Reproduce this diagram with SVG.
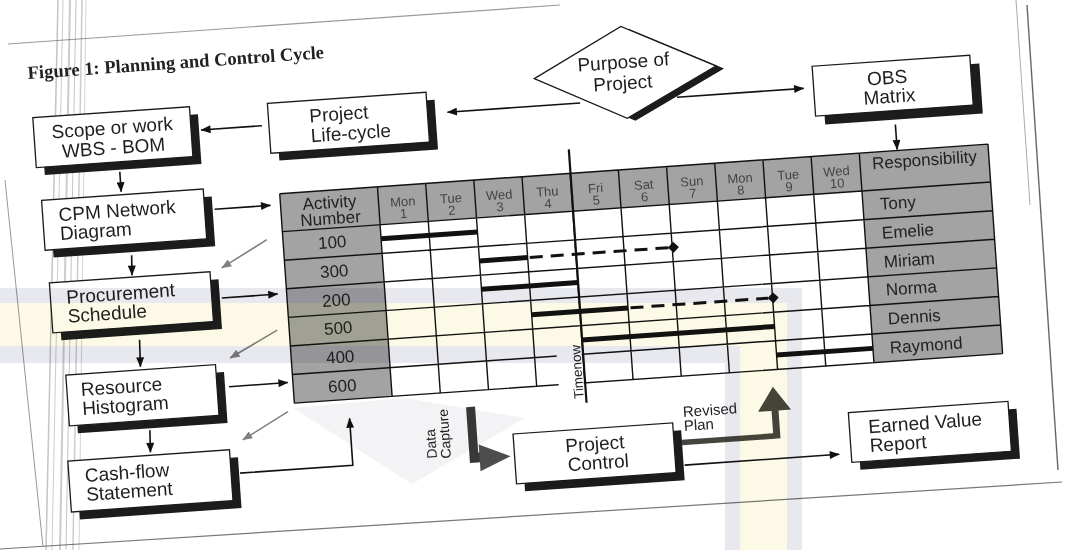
<svg xmlns="http://www.w3.org/2000/svg" width="1073" height="550" viewBox="0 0 1073 550">
<style>
.box{fill:#fff;stroke:#1a1a1a;stroke-width:1.3}
.sh{fill:#1c1c1c}
.t{font-family:"Liberation Sans",Arial,Helvetica,sans-serif;font-size:19px;fill:#1e1e1e}
.tc{text-anchor:middle}
.tb{font-family:"Liberation Sans",Arial,Helvetica,sans-serif;font-size:17px;fill:#222}
.td{font-family:"Liberation Sans",Arial,Helvetica,sans-serif;font-size:13px;fill:#444;text-anchor:middle}
.ln{stroke:#111;stroke-width:1.6;fill:none;marker-end:url(#ah)}
.gl{stroke:#808080;stroke-width:1.6;fill:none;marker-end:url(#ahg)}
.gc{fill:#a3a3a3}
.grid{stroke:#111;stroke-width:1.4;fill:none}
.bar{stroke:#111;stroke-width:5}
.dash{stroke:#111;stroke-width:3;stroke-dasharray:13 8}
.pg{fill:none}
.wm{mix-blend-mode:multiply}
.wg{fill:#e8e8ef}
.wy{fill:#fcfae7}
</style>
<defs>
<marker id="ah" viewBox="0 0 10 8" refX="9.5" refY="4" markerWidth="11" markerHeight="8" markerUnits="userSpaceOnUse" orient="auto"><path d="M0,0 L10,4 L0,8 z" fill="#111"/></marker>
<marker id="ahg" viewBox="0 0 10 8" refX="9.5" refY="4" markerWidth="11" markerHeight="8" markerUnits="userSpaceOnUse" orient="auto"><path d="M0,0 L10,4 L0,8 z" fill="#808080"/></marker>
</defs>
<rect x="0" y="0" width="1073" height="550" fill="#fff"/>
<g id="page" class="pg">
<line x1="8" y1="44" x2="560" y2="5" stroke="#9a9a9a" stroke-width="1.2"/>
<line x1="1016" y1="0" x2="1030" y2="205" stroke="#aaa" stroke-width="1"/>
<line x1="1027" y1="5" x2="1058" y2="470" stroke="#666" stroke-width="1.4"/>
<line x1="0" y1="549" x2="1062" y2="482" stroke="#777" stroke-width="1.2"/>
<line x1="5" y1="180" x2="43" y2="547" stroke="#999" stroke-width="1"/>
<g stroke="#555">
<line x1="58" y1="0" x2="46" y2="550" stroke-width="1.5" opacity="0.35"/>
<line x1="63" y1="0" x2="52" y2="550" stroke-width="1" opacity="0.3"/>
<line x1="70" y1="0" x2="60" y2="550" stroke-width="2" opacity="0.3"/>
<line x1="76" y1="0" x2="66" y2="550" stroke-width="1" opacity="0.35"/>
<line x1="82" y1="0" x2="73" y2="550" stroke-width="1.5" opacity="0.3"/>
<line x1="86" y1="0" x2="79" y2="550" stroke-width="1" opacity="0.25"/>
</g>
</g>
<g transform="rotate(-4 536 275)">
<text id="title" x="43" y="44" font-family="'Liberation Serif','Times New Roman',serif" font-weight="bold" font-size="18.5" fill="#222">Figure 1: Planning and Control Cycle</text>

<g id="connectors">
<line class="ln" x1="273" y1="107" x2="212" y2="107"/>
<line class="ln" x1="592" y1="106.5" x2="459" y2="106.5"/>
<line class="ln" x1="689" y1="107.5" x2="816" y2="107.5"/>
<line class="ln" x1="905" y1="150" x2="905" y2="175"/>
<line class="ln" x1="128" y1="143" x2="128" y2="163"/>
<line class="ln" x1="134" y1="227" x2="133" y2="247"/>
<line class="ln" x1="136" y1="312" x2="135" y2="339"/>
<line class="ln" x1="140" y1="403" x2="139" y2="425"/>
<line class="ln" x1="220" y1="187" x2="276" y2="187"/>
<line class="ln" x1="221" y1="276" x2="277" y2="276"/>
<line class="ln" x1="222" y1="365" x2="281" y2="365"/>
<line class="gl" x1="270" y1="221" x2="223" y2="246"/>
<line class="gl" x1="274" y1="312" x2="225" y2="336.5"/>
<line class="gl" x1="279" y1="394" x2="232" y2="419"/>
<polyline class="ln" points="227,452 340,452 340,405"/>
<line class="ln" x1="671" y1="475" x2="826" y2="475"/>
<path id="data-capture-arrow" d="M457,402 H466 V448 H468 V458 H457 Z" fill="#383838"/>
<polygon points="467,440 467,467 498,454" fill="#4d4d4d"/>
<path id="revised-plan-arrow" d="M670,449.5 L761.5,449.5 L761.5,427 L748,427 L764.5,403 L781,427 L768.5,427 L768.5,455 L670,455 Z" fill="#45453f"/>
</g>

<g id="scope">
<rect class="sh" x="53" y="91" width="157" height="50"/>
<rect class="box" x="45" y="83" width="157" height="50"/>
<text class="t tc" x="123.5" y="105">Scope or work</text>
<text class="t tc" x="123.5" y="125">WBS - BOM</text>
</g>
<g id="lifecycle">
<rect class="sh" x="288" y="93" width="159" height="50"/>
<rect class="box" x="280" y="85" width="159" height="50"/>
<text class="t" x="321" y="107">Project</text>
<text class="t" x="321" y="127">Life-cycle</text>
</g>
<g id="purpose">
<polygon class="sh" points="556,82 646,36 738,82 646,128"/>
<polygon class="box" points="548,79 638,33 730,79 638,125"/>
<text class="t tc" x="638" y="75">Purpose of</text>
<text class="t tc" x="636" y="96">Project</text>
</g>
<g id="obs">
<rect class="sh" x="835" y="95" width="158" height="50"/>
<rect class="box" x="826" y="86" width="158" height="50"/>
<text class="t tc" x="900" y="109">OBS</text>
<text class="t tc" x="901" y="128">Matrix</text>
</g>
<g id="cpm">
<rect class="sh" x="56" y="174" width="162" height="50"/>
<rect class="box" x="48" y="166" width="162" height="50"/>
<text class="t" x="64" y="188">CPM Network</text>
<text class="t" x="64" y="207">Diagram</text>
</g>
<g id="procurement">
<rect class="sh" x="58" y="257" width="161" height="50"/>
<rect class="box" x="50" y="249" width="161" height="50"/>
<text class="t" x="66" y="271">Procurement</text>
<text class="t" x="66" y="290">Schedule</text>
</g>
<g id="resource">
<rect class="sh" x="68" y="350" width="150" height="51"/>
<rect class="box" x="60" y="342" width="150" height="51"/>
<text class="t" x="74" y="364">Resource</text>
<text class="t" x="74" y="383">Histogram</text>
</g>
<g id="cashflow">
<rect class="sh" x="64" y="436" width="162" height="51"/>
<rect class="box" x="56" y="428" width="162" height="51"/>
<text class="t" x="72" y="450">Cash-flow</text>
<text class="t" x="72" y="469">Statement</text>
</g>
<g id="project-control">
<rect class="sh" x="510" y="440" width="160" height="50"/>
<rect class="box" x="502" y="432" width="160" height="50"/>
<text class="t tc" x="583" y="454">Project</text>
<text class="t tc" x="585" y="473">Control</text>
</g>
<g id="earned-value">
<rect class="sh" x="846" y="442" width="160" height="50"/>
<rect class="box" x="838" y="434" width="160" height="50"/>
<text class="t" x="857" y="456">Earned Value</text>
<text class="t" x="857" y="475">Report</text>
</g>
<g id="data-capture-label">
<text font-family="'Liberation Sans',Arial,sans-serif" font-size="14" fill="#222" transform="translate(424.5 451) rotate(-90)">Data</text>
<text font-family="'Liberation Sans',Arial,sans-serif" font-size="14" fill="#222" transform="translate(438.5 452) rotate(-90)">Capture</text>
</g>
<g id="revised-plan-label">
<text font-family="'Liberation Sans',Arial,sans-serif" font-size="15" fill="#222" x="673" y="427">Revised</text>
<text font-family="'Liberation Sans',Arial,sans-serif" font-size="15" fill="#222" x="673" y="441">Plan</text>
</g>

<g id="gantt-table">
<rect x="384" y="214" width="483" height="172" fill="#fff"/>
<rect class="gc" x="286" y="176" width="581" height="38"/>
<rect class="gc" x="286" y="214" width="98" height="172"/>
<rect class="gc" x="867" y="176" width="129" height="210"/>
<path class="grid" d="M286,176H996 M286,214H996 M286,242.7H996 M286,271.3H996 M286,300H996 M286,328.7H996 M286,357.3H996 M286,386H996 M286,176V386 M384,176V386 M432.3,176V386 M480.6,176V386 M528.9,176V386 M577.2,176V386 M625.5,176V386 M673.8,176V386 M722.1,176V386 M770.4,176V386 M818.7,176V386 M867,176V386 M996,176V386"/>
<text class="tb tc" x="335" y="194">Activity</text>
<text class="tb tc" x="335" y="210">Number</text>
<text class="td" x="408.2" y="197">Mon</text><text class="td" x="408.2" y="209">1</text>
<text class="td" x="456.5" y="197">Tue</text><text class="td" x="456.5" y="209">2</text>
<text class="td" x="504.8" y="197">Wed</text><text class="td" x="504.8" y="209">3</text>
<text class="td" x="553.1" y="197">Thu</text><text class="td" x="553.1" y="209">4</text>
<text class="td" x="601.4" y="197">Fri</text><text class="td" x="601.4" y="209">5</text>
<text class="td" x="649.7" y="197">Sat</text><text class="td" x="649.7" y="209">6</text>
<text class="td" x="698" y="197">Sun</text><text class="td" x="698" y="209">7</text>
<text class="td" x="746.3" y="197">Mon</text><text class="td" x="746.3" y="209">8</text>
<text class="td" x="794.6" y="197">Tue</text><text class="td" x="794.6" y="209">9</text>
<text class="td" x="842.9" y="197">Wed</text><text class="td" x="842.9" y="209">10</text>
<text class="tb tc" x="931.5" y="193">Responsibility</text>
<text class="tb tc" x="335" y="234">100</text>
<text class="tb tc" x="335" y="263">300</text>
<text class="tb tc" x="335" y="292">200</text>
<text class="tb tc" x="335" y="320">500</text>
<text class="tb tc" x="335" y="349">400</text>
<text class="tb tc" x="335" y="378">600</text>
<text class="tb" x="884" y="234">Tony</text>
<text class="tb" x="884" y="263">Emelie</text>
<text class="tb" x="884" y="292">Miriam</text>
<text class="tb" x="884" y="320">Norma</text>
<text class="tb" x="884" y="349">Dennis</text>
<text class="tb" x="884" y="378">Raymond</text>
<line class="bar" x1="384" y1="228" x2="480.6" y2="228"/>
<line class="bar" x1="480.6" y1="257" x2="528.9" y2="257"/>
<line class="dash" x1="531" y1="257" x2="671" y2="257"/>
<path d="M675,251.5 l5.5,5.5 l-5.5,5.5 l-5.5,-5.5 z" fill="#111"/>
<line class="bar" x1="480.6" y1="285.5" x2="577.2" y2="285.5"/>
<line class="bar" x1="528.9" y1="314.3" x2="625.5" y2="314.3"/>
<line class="dash" x1="628" y1="314.3" x2="766" y2="314.3"/>
<path d="M771,308.8 l5.5,5.5 l-5.5,5.5 l-5.5,-5.5 z" fill="#111"/>
<line class="bar" x1="577.2" y1="343" x2="770.4" y2="343"/>
<line class="bar" x1="770.4" y1="371.7" x2="867" y2="371.7"/>
<rect x="551" y="350" width="25" height="50" fill="#fff"/>
<line id="timenow" x1="577.5" y1="152" x2="577.5" y2="406" stroke="#111" stroke-width="2.2"/>
<text font-family="'Liberation Sans',Arial,sans-serif" font-size="13.5" fill="#222" text-anchor="middle" transform="translate(575 374.5) rotate(-90)">Timenow</text>
</g>
</g>
<g id="watermark" class="wm">
<rect class="wg" x="0" y="288" width="802" height="15"/>
<rect class="wy" x="0" y="303" width="787" height="43"/>
<rect class="wg" x="0" y="346" width="725" height="17"/>
<rect class="wg" x="725" y="346" width="15" height="204"/>
<rect class="wy" x="740" y="346" width="47" height="204"/>
<rect class="wg" x="787" y="303" width="15" height="247"/>
<polygon points="293,408 405,398 525,418 412,484" fill="#f3f3f6"/>
</g>
</svg>
